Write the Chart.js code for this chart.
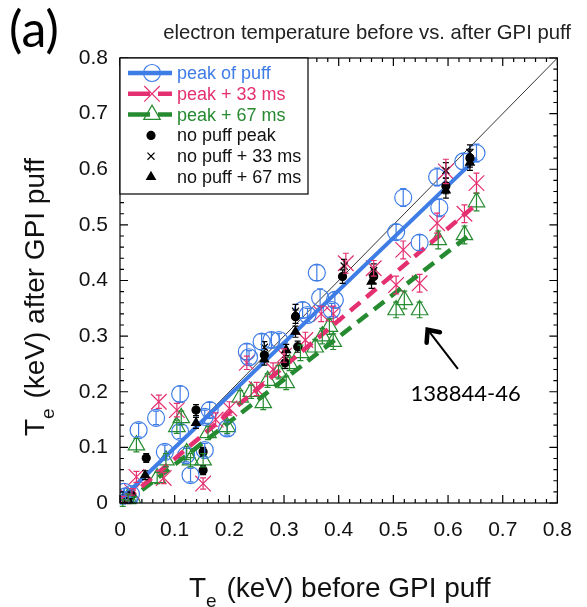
<!DOCTYPE html>
<html>
<head>
<meta charset="utf-8">
<script src="https://cdn.jsdelivr.net/npm/chart.js@4/dist/chart.umd.min.js"></script>
<style>
  html, body { margin: 0; padding: 0; background: #fff; }
</style>
</head>
<body>
<canvas id="myChart" width="587" height="607"></canvas>
<script>
// axis ticks
const tickValues = [0, 0.1, 0.2, 0.3, 0.4, 0.5, 0.6, 0.7, 0.8];
const tickLabels = ['0', '0.1', '0.2', '0.3', '0.4', '0.5', '0.6', '0.7', '0.8'];

// [Te before, Te after, error] in keV
const peakOfPuff = [
  [0.005, 0.004, 0.006], [0.01, 0.012, 0.006], [0.016, 0.006, 0.006], [0.02, 0.016, 0.006], [0.008, 0.02, 0.006],
  [0.034, 0.131, 0.012], [0.066, 0.153, 0.012], [0.11, 0.196, 0.014], [0.11, 0.128, 0.012], [0.082, 0.092, 0.012],
  [0.121, 0.086, 0.012], [0.129, 0.05, 0.012], [0.155, 0.095, 0.012], [0.164, 0.167, 0.014], [0.155, 0.155, 0.012],
  [0.196, 0.134, 0.012], [0.236, 0.262, 0.012], [0.232, 0.272, 0.014], [0.259, 0.29, 0.014], [0.277, 0.293, 0.014],
  [0.291, 0.293, 0.012], [0.334, 0.347, 0.014], [0.343, 0.338, 0.012], [0.36, 0.414, 0.014], [0.366, 0.369, 0.016],
  [0.393, 0.365, 0.014], [0.387, 0.347, 0.012], [0.505, 0.487, 0.014], [0.518, 0.549, 0.016], [0.548, 0.468, 0.014],
  [0.584, 0.531, 0.016], [0.58, 0.586, 0.016], [0.628, 0.614, 0.014], [0.652, 0.629, 0.016]
];
const peak33 = [
  [0.005, 0.006, 0.006], [0.015, 0.01, 0.006], [0.022, 0.02, 0.006], [0.03, 0.047, 0.01], [0.071, 0.182, 0.012],
  [0.104, 0.167, 0.012], [0.08, 0.045, 0.01], [0.152, 0.035, 0.01], [0.175, 0.15, 0.012], [0.2, 0.17, 0.012],
  [0.232, 0.252, 0.012], [0.25, 0.205, 0.012], [0.28, 0.24, 0.012], [0.3, 0.265, 0.012], [0.339, 0.293, 0.014],
  [0.368, 0.34, 0.014], [0.39, 0.34, 0.014], [0.413, 0.431, 0.018], [0.464, 0.422, 0.014], [0.505, 0.392, 0.016],
  [0.518, 0.455, 0.016], [0.548, 0.395, 0.016], [0.58, 0.503, 0.018], [0.596, 0.596, 0.022], [0.63, 0.52, 0.016],
  [0.652, 0.575, 0.018]
];
const peak67 = [
  [0.005, 0.0, 0.006], [0.015, 0.01, 0.006], [0.025, 0.005, 0.006], [0.03, 0.104, 0.012], [0.068, 0.045, 0.01],
  [0.084, 0.077, 0.012], [0.104, 0.137, 0.012], [0.112, 0.153, 0.012], [0.122, 0.09, 0.012], [0.129, 0.077, 0.012],
  [0.152, 0.077, 0.012], [0.161, 0.126, 0.012], [0.196, 0.137, 0.012], [0.22, 0.19, 0.012], [0.24, 0.2, 0.012],
  [0.262, 0.18, 0.012], [0.27, 0.22, 0.012], [0.29, 0.235, 0.012], [0.304, 0.216, 0.012], [0.31, 0.25, 0.012],
  [0.33, 0.27, 0.014], [0.357, 0.28, 0.014], [0.37, 0.3, 0.014], [0.383, 0.317, 0.014], [0.39, 0.29, 0.014],
  [0.505, 0.347, 0.014], [0.52, 0.365, 0.016], [0.548, 0.347, 0.014], [0.582, 0.473, 0.016], [0.63, 0.482, 0.016],
  [0.652, 0.541, 0.016]
];
const noPuffPeak = [
  [0.012, 0.008, 0.006], [0.02, 0.015, 0.006], [0.048, 0.081, 0.008], [0.139, 0.167, 0.01], [0.152, 0.092, 0.008],
  [0.152, 0.059, 0.008], [0.264, 0.266, 0.01], [0.302, 0.252, 0.01], [0.321, 0.335, 0.012], [0.325, 0.281, 0.01],
  [0.407, 0.407, 0.012], [0.464, 0.407, 0.012], [0.596, 0.57, 0.014], [0.64, 0.62, 0.016]
];
const noPuff33 = [
  [0.01, 0.01, 0.006], [0.264, 0.28, 0.01], [0.321, 0.345, 0.012], [0.41, 0.426, 0.012], [0.464, 0.418, 0.012],
  [0.596, 0.598, 0.014], [0.64, 0.63, 0.014]
];
const noPuff67 = [
  [0.015, 0.005, 0.006], [0.046, 0.05, 0.008], [0.139, 0.144, 0.01], [0.264, 0.258, 0.01], [0.304, 0.275, 0.01],
  [0.321, 0.308, 0.01], [0.46, 0.398, 0.012], [0.596, 0.562, 0.014], [0.64, 0.612, 0.014]
];

// linear fits and the Te_after = Te_before line
const fitPeak = [[0.005, 0.01], [0.652, 0.62]];
const fit33 = [[0.01, 0.005], [0.646, 0.532]];
const fit67 = [[0.01, 0.0], [0.646, 0.487]];
const unity = [[0, 0], [0.8, 0.8]];

// shot label
const note = { text: '138844-46', tip: [0.559, 0.315], tail: [0.618, 0.241], at: [0.632, 0.196] };

const BLUE = 'rgb(62, 124, 230)';
const PINK = 'rgb(228, 48, 112)';
const GREEN = 'rgb(38, 138, 48)';
const SANS = '"Liberation Sans", Arial, sans-serif';
const CAL = 'Lato, "Open Sans", sans-serif';

const pts = arr => arr.map(d => ({ x: d[0], y: d[1], e: d[2] }));

function markers(label, arr, color, style, r, fill, order) {
  return {
    type: 'scatter', label, data: pts(arr), order,
    pointStyle: style, pointRadius: r, pointHoverRadius: r,
    borderColor: color, backgroundColor: fill ? color : 'rgba(0,0,0,0)',
    pointBorderWidth: 1.2, showLine: false
  };
}
function fitLine(label, arr, color, width, dash, order) {
  return {
    type: 'line', label, data: arr.map(d => ({ x: d[0], y: d[1] })), order,
    borderColor: color, borderWidth: width, borderDash: dash,
    pointRadius: 0, fill: false, tension: 0, borderCapStyle: 'butt'
  };
}

const datasets = [
  markers('no puff peak', noPuffPeak, '#000', 'circle', 4, true, 0),
  markers('no puff + 33 ms', noPuff33, '#000', 'crossRot', 5, false, 0),
  markers('no puff + 67 ms', noPuff67, '#000', 'triangle', 5, true, 0),
  fitLine('fit peak', fitPeak, BLUE, 4, [], 1),
  fitLine('fit 33', fit33, PINK, 4.5, [13, 8], 1),
  fitLine('fit 67', fit67, GREEN, 4.5, [13, 8], 1),
  markers('peak of puff', peakOfPuff, BLUE, 'circle', 8.5, false, 2),
  markers('peak + 33 ms', peak33, PINK, 'crossRot', 11, false, 3),
  markers('peak + 67 ms', peak67, GREEN, 'triangle', 9.5, false, 4),
  fitLine('unity', unity, '#000', 0.8, [], 5)
];

const legendItems = [
  { label: 'peak of puff', color: BLUE, text: BLUE, style: 'circle', r: 8.5, dash: [] },
  { label: 'peak + 33 ms', color: PINK, text: PINK, style: 'crossRot', r: 11, dash: [13, 8] },
  { label: 'peak + 67 ms', color: GREEN, text: GREEN, style: 'triangle', r: 9.5, dash: [13, 8] },
  { label: 'no puff peak', color: '#000', text: '#111', style: 'circle', r: 4, fill: true },
  { label: 'no puff + 33 ms', color: '#000', text: '#111', style: 'crossRot', r: 5 },
  { label: 'no puff + 67 ms', color: '#000', text: '#111', style: 'triangle', r: 5, fill: true }
];

const errorBars = {
  id: 'errorBars',
  afterDatasetsDraw(chart) {
    const ctx = chart.ctx, ys = chart.scales.y;
    chart.data.datasets.forEach((ds, i) => {
      if (ds.type !== 'scatter') return;
      const meta = chart.getDatasetMeta(i);
      ctx.save();
      ctx.strokeStyle = ds.borderColor;
      ctx.lineWidth = 1.2;
      meta.data.forEach((el, j) => {
        const d = ds.data[j];
        const top = ys.getPixelForValue(d.y + d.e), bot = ys.getPixelForValue(d.y - d.e);
        ctx.beginPath();
        ctx.moveTo(el.x, top); ctx.lineTo(el.x, bot);
        ctx.moveTo(el.x - 3, top); ctx.lineTo(el.x + 3, top);
        ctx.moveTo(el.x - 3, bot); ctx.lineTo(el.x + 3, bot);
        ctx.stroke();
      });
      ctx.restore();
    });
  }
};

function drawTeTitle(ctx, rest, cx, base) {
  ctx.font = '28px ' + SANS;
  const wT = ctx.measureText('T').width;
  ctx.font = '19px ' + SANS;
  const wE = ctx.measureText('e').width;
  ctx.font = '28px ' + SANS;
  const wR = ctx.measureText(rest).width;
  let x = cx - (wT + wE + wR) / 2;
  ctx.textAlign = 'left';
  ctx.textBaseline = 'alphabetic';
  ctx.fillText('T', x, base);
  ctx.font = '19px ' + SANS;
  ctx.fillText('e', x + wT, base + 10);
  ctx.font = '28px ' + SANS;
  ctx.fillText(rest, x + wT + wE + 2, base);
}

const decor = {
  id: 'decor',
  afterDraw(chart) {
    const ctx = chart.ctx, a = chart.chartArea;
    const xs = chart.scales.x, ys = chart.scales.y;
    ctx.save();
    // frame
    ctx.strokeStyle = '#000';
    ctx.lineWidth = 1.2;
    ctx.strokeRect(a.left, a.top, a.right - a.left, a.bottom - a.top);
    // inward ticks, minor every 0.02
    ctx.beginPath();
    for (let i = 0; i <= 40; i++) {
      const v = i * 0.02, len = i % 5 === 0 ? 8 : 4;
      const px = xs.getPixelForValue(v), py = ys.getPixelForValue(v);
      ctx.moveTo(px, a.bottom); ctx.lineTo(px, a.bottom - len);
      ctx.moveTo(px, a.top); ctx.lineTo(px, a.top + len);
      ctx.moveTo(a.left, py); ctx.lineTo(a.left + len, py);
      ctx.moveTo(a.right, py); ctx.lineTo(a.right - len, py);
    }
    ctx.stroke();

    // legend box
    const lx = a.left, ly = a.top, lw = 188, lh = 136;
    ctx.fillStyle = '#fff';
    ctx.fillRect(lx, ly, lw, lh);
    ctx.lineWidth = 1.2;
    ctx.strokeStyle = '#000';
    ctx.strokeRect(lx, ly, lw, lh);
    legendItems.forEach((it, k) => {
      const y = ly + 15 + k * 20.8;
      if (it.dash) {
        ctx.save();
        ctx.strokeStyle = it.color;
        ctx.lineWidth = 4.5;
        ctx.setLineDash(it.dash.length ? [22, 8] : []);
        ctx.beginPath(); ctx.moveTo(lx + 8, y); ctx.lineTo(lx + 52, y); ctx.stroke();
        ctx.restore();
      }
      ctx.save();
      ctx.strokeStyle = it.color;
      ctx.fillStyle = it.fill ? it.color : 'rgba(0,0,0,0)';
      ctx.lineWidth = 1.2;
      Chart.helpers.drawPoint(ctx, { pointStyle: it.style, radius: it.r, borderWidth: 1.2, rotation: 0 }, lx + (it.dash ? 32 : 31), y);
      ctx.restore();
      ctx.fillStyle = it.text;
      ctx.font = '18px ' + SANS;
      ctx.textAlign = 'left';
      ctx.textBaseline = 'middle';
      ctx.fillText(it.label, lx + 57, y + 1);
    });

    // chart title
    ctx.fillStyle = '#222';
    ctx.font = '20.3px ' + SANS;
    ctx.textAlign = 'center';
    ctx.textBaseline = 'alphabetic';
    ctx.fillText('electron temperature before vs. after GPI puff', 367, 39);

    // panel tag
    ctx.fillStyle = '#000';
    ctx.font = '50px ' + CAL;
    ctx.textAlign = 'left';
    ctx.fillText('(a)', 9, 47);

    // axis titles
    ctx.fillStyle = '#111';
    drawTeTitle(ctx, ' (keV) before GPI puff', (a.left + a.right) / 2, 597);
    ctx.save();
    ctx.translate(0, 298);
    ctx.rotate(-Math.PI / 2);
    drawTeTitle(ctx, ' (keV) after GPI puff', 0, 44);
    ctx.restore();

    // shot annotation
    const tx = xs.getPixelForValue(note.tip[0]), ty = ys.getPixelForValue(note.tip[1]);
    const sx = xs.getPixelForValue(note.tail[0]), sy = ys.getPixelForValue(note.tail[1]);
    ctx.strokeStyle = '#000';
    ctx.lineWidth = 2;
    ctx.beginPath(); ctx.moveTo(sx, sy); ctx.lineTo(tx + 3, ty + 3); ctx.stroke();
    const ang = Math.atan2(sy - ty, sx - tx);
    ctx.lineWidth = 4.5;
    ctx.lineCap = 'round';
    ctx.lineJoin = 'miter';
    ctx.beginPath();
    ctx.moveTo(tx + 15 * Math.cos(ang - 0.6), ty + 15 * Math.sin(ang - 0.6));
    ctx.lineTo(tx + 2, ty + 2);
    ctx.lineTo(tx + 15 * Math.cos(ang + 0.6), ty + 15 * Math.sin(ang + 0.6));
    ctx.stroke();
    ctx.fillStyle = '#000';
    ctx.font = '22px ' + CAL;
    ctx.textAlign = 'center';
    ctx.textBaseline = 'middle';
    ctx.fillText(note.text, xs.getPixelForValue(note.at[0]), ys.getPixelForValue(note.at[1]));
    ctx.restore();
  }
};

const axisTicks = {
  min: 0, max: 0.8,
  afterBuildTicks: s => { s.ticks = tickValues.map(v => ({ value: v })); },
  grid: { display: false, drawTicks: false },
  border: { display: false }
};

const config = {
  type: 'scatter',
  data: { datasets },
  options: {
    responsive: false,
    animation: false,
    devicePixelRatio: 1,
    layout: { padding: { top: 58, right: 19, left: 0, bottom: 0 } },
    plugins: { legend: { display: false }, tooltip: { enabled: false }, title: { display: false } },
    scales: {
      x: Object.assign({ type: 'linear', position: 'bottom',
        ticks: { callback: (v, i) => tickLabels[i], font: { family: SANS, size: 21 }, color: '#111', padding: 15, maxRotation: 0, autoSkip: false },
        afterFit: s => { s.height = 104; } }, axisTicks),
      y: Object.assign({ type: 'linear', position: 'left',
        ticks: { callback: (v, i) => tickLabels[i], font: { family: SANS, size: 21 }, color: '#111', padding: 12, autoSkip: false },
        afterFit: s => { s.width = 120; } }, axisTicks)
    }
  },
  plugins: [errorBars, decor]
};

var myChart = new Chart(document.getElementById('myChart'), config);
</script>
</body>
</html>
